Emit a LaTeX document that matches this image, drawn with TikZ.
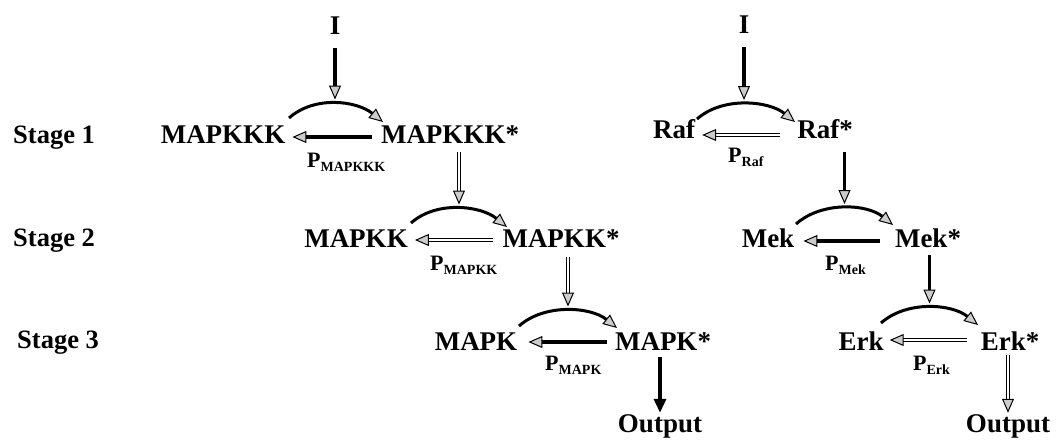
\documentclass[tikz,border=0pt]{standalone}
\usepackage{fontspec}
\setmainfont{Liberation Serif}
\usetikzlibrary{arrows.meta,calc}
\newcommand\Psub[1]{{\fontsize{22}{22}\selectfont P}\raisebox{-4pt}{\fontsize{14}{14}\selectfont #1}}
\tikzset{
 lbl/.style={inner sep=0pt, anchor=base, text height=18pt, text depth=0pt, font=\fontsize{27}{30}\selectfont\bfseries},
 stagelbl/.style={inner sep=0pt, anchor=base west, font=\fontsize{26.5}{30}\selectfont\bfseries},
 plbl/.style={inner sep=0pt, anchor=base west, font=\bfseries},
 headtip/.style={-{Triangle[length=14pt,width=12pt,line width=1pt,fill=gray!40]}},
 solidarr/.style={headtip, line width=3.4pt, draw=black},
 hollowarr/.style={headtip, line width=1.3pt, double=white, double distance=1.8pt},
 arcarr/.style={headtip, line width=3pt},
 blackhead/.style={-{Triangle[length=14pt,width=12pt,fill=black]}},
}
\begin{document}
\begin{tikzpicture}[x=1pt,y=-1pt]
\path[use as bounding box] (0,0) rectangle (1057,439);
% stage labels
\node[stagelbl] (st1) at (13,143) {Stage 1};
\node[stagelbl] (st2) at (13,246) {Stage 2};
\node[stagelbl] (st3) at (17,348) {Stage 3};
% left cascade
\node[lbl] (I1) at (335,34) {I};
\node[lbl] (mapkkk) at (223,143) {MAPKKK};
\node[lbl] (mapkkks) at (450,143) {MAPKKK*};
\node[lbl] (mapkk) at (356,247) {MAPKK};
\node[lbl] (mapkks) at (561,247) {MAPKK*};
\node[lbl] (mapk) at (476,350) {MAPK};
\node[lbl] (mapks) at (663,350) {MAPK*};
\node[lbl] (out1) at (660,432) {Output};
\node[plbl] (p1) at (307,167) {\Psub{MAPKKK}};
\node[plbl] (p2) at (430,270) {\Psub{MAPKK}};
\node[plbl] (p3) at (545,370) {\Psub{MAPK}};
% right cascade
\node[lbl] (I2) at (744,33) {I};
\node[lbl] (raf) at (674,138) {Raf};
\node[lbl] (rafs) at (825,138) {Raf*};
\node[lbl] (mek) at (768,247) {Mek};
\node[lbl] (meks) at (928,247) {Mek*};
\node[lbl] (erk) at (861,350) {Erk};
\node[lbl] (erks) at (1010,350) {Erk*};
\node[lbl] (out2) at (1008,432) {Output};
\node[plbl] (p4) at (728,162) {\Psub{Raf}};
\node[plbl] (p5) at (825,270) {\Psub{Mek}};
\node[plbl] (p6) at (913,370) {\Psub{Erk}};
% arc end points
\coordinate (s1) at (289,118); \coordinate (e1) at (383,122);
\coordinate (s2) at (411,223); \coordinate (e2) at (507,227);
\coordinate (s3) at (519,326); \coordinate (e3) at (617,328);
\coordinate (s4) at (697,119); \coordinate (e4) at (795,122);
\coordinate (s5) at (796,224); \coordinate (e5) at (893,225);
\coordinate (s6) at (881,323); \coordinate (e6) at (978,325);
% activation arcs
\draw[arcarr] (s1) .. controls +(26,-23) and +(-26,-21) .. (e1) coordinate[pos=0.5] (a1);
\draw[arcarr] (s2) .. controls +(26,-23) and +(-26,-21) .. (e2) coordinate[pos=0.5] (a2);
\draw[arcarr] (s3) .. controls +(26,-23) and +(-26,-21) .. (e3) coordinate[pos=0.5] (a3);
\draw[arcarr] (s4) .. controls +(26,-23) and +(-26,-21) .. (e4) coordinate[pos=0.5] (a4);
\draw[arcarr] (s5) .. controls +(26,-23) and +(-26,-21) .. (e5) coordinate[pos=0.5] (a5);
\draw[arcarr] (s6) .. controls +(26,-23) and +(-26,-21) .. (e6) coordinate[pos=0.5] (a6);
% reverse (phosphatase) arrows
\draw[solidarr, shorten <=9pt, shorten >=7pt] ([yshift=-3pt]mapkkks.west) -- ([yshift=-3pt]mapkkk.east);
\draw[hollowarr, shorten <=9pt, shorten >=7pt] ([yshift=-2pt]mapkks.west) -- ([yshift=-2pt]mapkk.east);
\draw[solidarr, shorten <=8pt, shorten >=11pt] ([yshift=-1pt]mapks.west) -- ([yshift=-1pt]mapk.east);
\draw[hollowarr, shorten <=17pt, shorten >=7pt] ([yshift=-6pt]rafs.west) -- ([yshift=-6pt]raf.east);
\draw[solidarr, shorten <=15pt, shorten >=9pt] ([yshift=-3pt]meks.west) -- ([yshift=-3pt]mek.east);
\draw[hollowarr, shorten <=14pt, shorten >=6pt] ([yshift=1pt]erks.west) -- ([yshift=1pt]erk.east);
% vertical arrows
\draw[solidarr, shorten <=14pt, shorten >=4pt] (I1.south) -- (I1.south |- a1);
\draw[solidarr, shorten <=14pt, shorten >=4pt] (I2.south) -- (I2.south |- a4);
\draw[hollowarr, shorten <=9pt, shorten >=4pt] (a2 |- mapkkks.south) -- (a2);
\draw[hollowarr, shorten <=10pt, shorten >=4pt] (a3 |- mapkks.south) -- (a3);
\draw[solidarr, shorten <=14pt, shorten >=4pt] (a5 |- rafs.south) -- (a5);
\draw[solidarr, shorten <=8pt, shorten >=4pt] (a6 |- meks.south) -- (a6);
\draw[solidarr, blackhead, shorten <=7pt, shorten >=1pt] (out1.north |- mapks.south) -- (out1.north);
\draw[hollowarr, shorten <=5pt, shorten >=1pt] (out2.north |- erks.south) -- (out2.north);
\end{tikzpicture}
\end{document}
